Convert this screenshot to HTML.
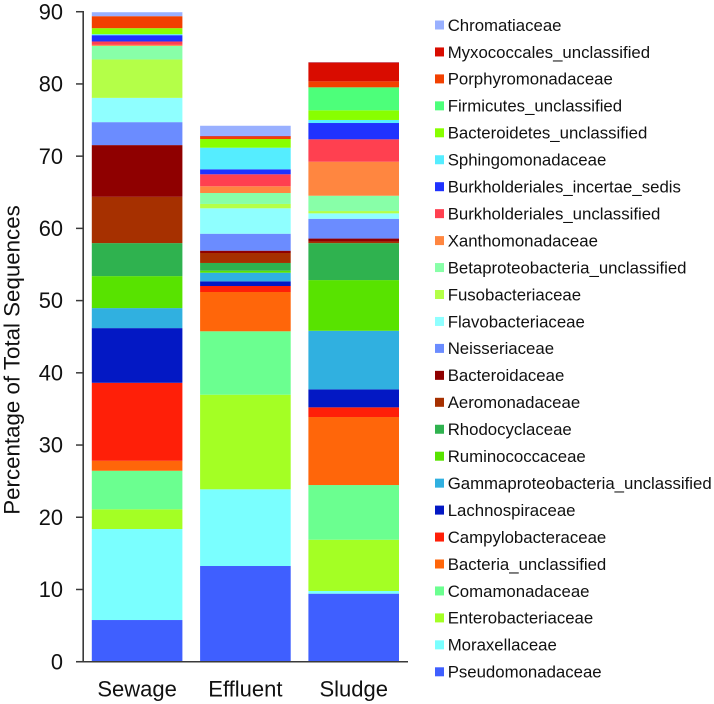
<!DOCTYPE html>
<html lang="en">
<head>
<meta charset="utf-8">
<title>Percentage of Total Sequences by Sample</title>
<style>
  html, body { margin: 0; padding: 0; background: #fff; }
  body { width: 714px; height: 704px; overflow: hidden; }
  svg { display: block; font-family: "Liberation Sans", Arial, sans-serif; fill: #111; }
</style>
</head>
<body>
<svg id="chart" xmlns="http://www.w3.org/2000/svg" width="714" height="704" viewBox="0 0 714 704"></svg>
<script>
const samples = ["Sewage", "Effluent", "Sludge"];
const taxa = [
  "Pseudomonadaceae", "Moraxellaceae", "Enterobacteriaceae", "Comamonadaceae", "Bacteria_unclassified",
  "Campylobacteraceae", "Lachnospiraceae", "Gammaproteobacteria_unclassified", "Ruminococcaceae", "Rhodocyclaceae",
  "Aeromonadaceae", "Bacteroidaceae", "Neisseriaceae", "Flavobacteriaceae", "Fusobacteriaceae",
  "Betaproteobacteria_unclassified", "Xanthomonadaceae", "Burkholderiales_unclassified", "Burkholderiales_incertae_sedis", "Sphingomonadaceae",
  "Bacteroidetes_unclassified", "Firmicutes_unclassified", "Porphyromonadaceae", "Myxococcales_unclassified", "Chromatiaceae"
];
const sewageValues = [5.77, 12.6, 2.73, 5.34, 1.38, 10.8, 7.57, 2.77, 4.43, 4.57, 6.41, 7.16, 3.18, 3.36, 5.32, 1.88, 0.14, 0.47, 0.87, 0.14, 0.83, 0, 1.66, 0, 0.55];
const effluentValues = [13.25, 10.62, 13.10, 8.78, 5.44, 0.83, 0.65, 1.19, 0.28, 1.07, 1.38, 0.32, 2.35, 3.52, 0.60, 1.52, 0.93, 1.66, 0.69, 2.99, 1.20, 0, 0.30, 0.11, 1.43];
const sludgeValues = [9.42, 0.37, 7.10, 7.57, 9.42, 1.34, 2.49, 8.11, 7.02, 5.12, 0.21, 0.42, 2.74, 0.75, 0.32, 2.12, 4.71, 3.10, 2.26, 0.42, 1.34, 3.18, 0.83, 2.63, 0.04];
const yTickLabels = [0, 10, 20, 30, 40, 50, 60, 70, 80, 90];
const palette = [
  "#3f5fff", "#7affff", "#a4ff24", "#6bff90", "#ff660a",
  "#ff1f08", "#0318c4", "#30b0e0", "#58e300", "#2fb24f",
  "#a63000", "#8f0000", "#6b8cff", "#8fffff", "#b4ff48",
  "#88ffa8", "#ff8640", "#ff4050", "#1f32ff", "#55edff",
  "#88ff00", "#4dff7a", "#f24000", "#d90c00", "#99b0ff"
];
const sampleSeries = [sewageValues, effluentValues, sludgeValues];

const svg = document.getElementById("chart");
const NS = "http://www.w3.org/2000/svg";

function make(tag, attrs, text) {
  const el = document.createElementNS(NS, tag);
  for (const k in attrs) el.setAttribute(k, attrs[k]);
  if (text !== undefined) el.textContent = text;
  return el;
}

const yZero = 661.7;
const yPxPerUnit = 7.222;
function yScale(v) { return yZero - v * yPxPerUnit; }

const firstBarLeft = 91.8;
const barStep = 108.3;
const barWidth = 90.6;
function xLeft(i) { return firstBarLeft + i * barStep; }

/* bars */
sampleSeries.forEach(function (values, s) {
  const group = make("g", {});
  
  
  let cum = 0;
  values.forEach(function (v, t) {
    if (v > 0) {
      const top = yScale(cum + v);
      const seg = make("rect", { x: xLeft(s), y: top, width: barWidth, height: v * yPxPerUnit, fill: palette[t] });
      
      
      group.appendChild(seg);
    }
    cum += v;
  });
  svg.appendChild(group);
});

/* y axis */
const yAxisLine = make("line", { x1: 83.2, x2: 83.2, y1: yScale(90) - 0.7, y2: yZero + 0.7, stroke: "#3a3a3a", "stroke-width": 1.6 });


svg.appendChild(yAxisLine);

yTickLabels.forEach(function (v) {
  const tick = make("line", { x1: 76, x2: 83, y1: yScale(v), y2: yScale(v), stroke: "#3a3a3a", "stroke-width": 1.5 });
  
  
  svg.appendChild(tick);
  const label = make("text", { x: 63, y: yScale(v) + 7.6, "text-anchor": "end", "font-size": 21.8 }, String(v));
  
  
  svg.appendChild(label);
});

/* x axis */
const xAxisLine = make("line", { x1: 76, x2: 408, y1: yZero, y2: yZero, stroke: "#3a3a3a", "stroke-width": 1.5 });


svg.appendChild(xAxisLine);

samples.forEach(function (name, i) {
  const label = make("text", { x: xLeft(i) + barWidth / 2, y: 696.5, "text-anchor": "middle", "font-size": 22 }, name);
  
  
  svg.appendChild(label);
});

/* y axis title */
const yTitle = make("text", { x: 0, y: 0, transform: "translate(19.5,360) rotate(-90)", "text-anchor": "middle", "font-size": 22.3 }, "Percentage of Total Sequences");


svg.appendChild(yTitle);

/* legend (top entry is the last taxon) */
const legend = make("g", {});


svg.appendChild(legend);
taxa.slice().reverse().forEach(function (name, i) {
  const cy = 25 + i * 26.95;
  const entry = make("g", {});
  
  
  entry.appendChild(make("rect", { x: 435, y: cy - 4.5, width: 9, height: 9, fill: palette[taxa.length - 1 - i] }));
  entry.appendChild(make("text", { x: 447.7, y: cy + 5.8, "font-size": 16.8 }, name));
  legend.appendChild(entry);
});
</script>
</body>
</html>
